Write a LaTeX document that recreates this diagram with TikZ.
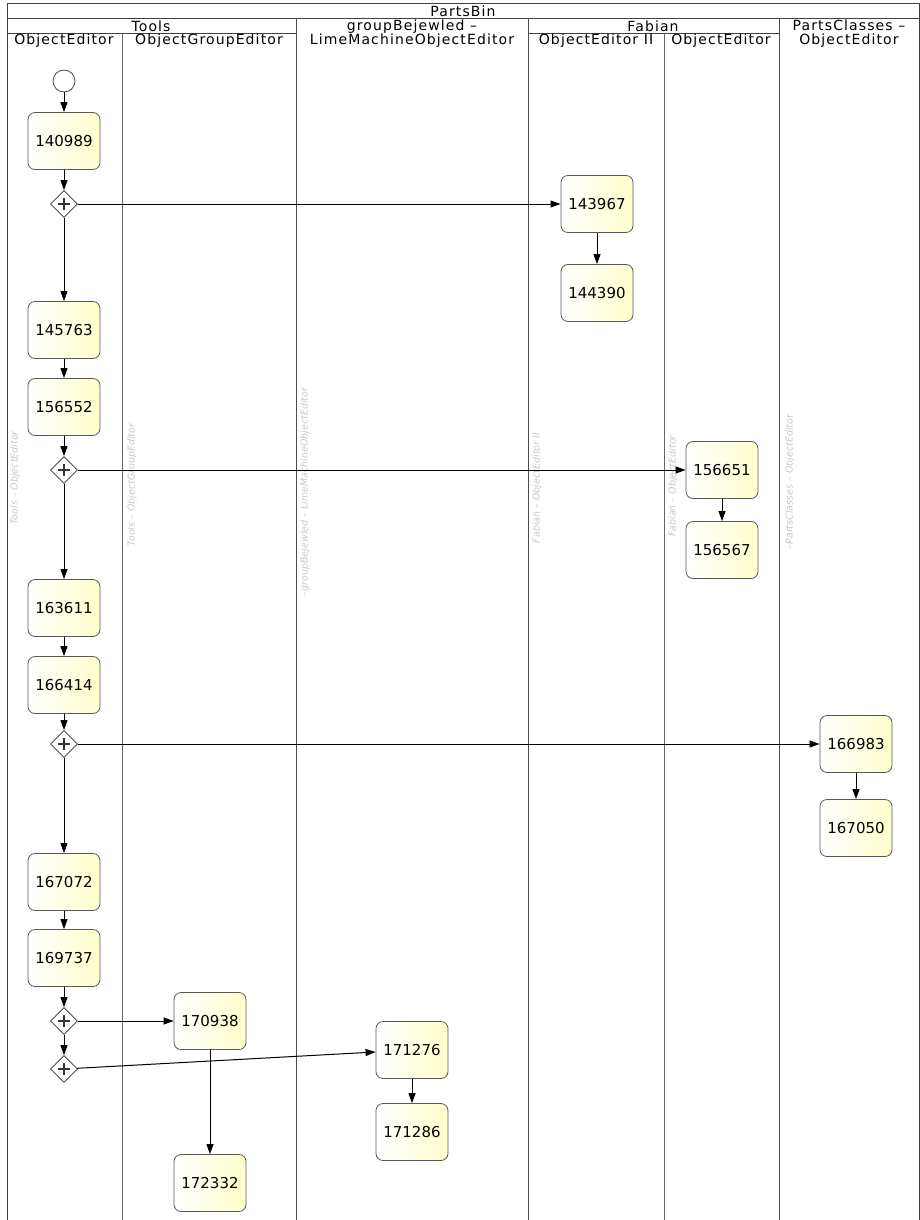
\documentclass[tikz,border=0pt]{standalone}
\usepackage{fontspec}
\setmainfont{DejaVu Sans}
\newfontfamily\hdrfont[LetterSpace=8]{DejaVu Sans}
\usetikzlibrary{arrows.meta,shapes.geometric}
\tikzset{>={Triangle[length=10pt,width=7pt]}}
\tikzset{
  task/.style={draw=black!65, line width=0.8pt, rounded corners=7pt, minimum width=72pt, minimum height=57pt,
    shading angle=135, left color=white, right color=yellow!20, font=\fontsize{15}{15}\selectfont},
  gate/.style={diamond, draw=black!80, line width=0.8pt, fill=white, minimum size=27pt, inner sep=0pt,
    path picture={\draw[line width=1.6pt] ([xshift=-6pt]path picture bounding box.center) -- ([xshift=6pt]path picture bounding box.center);
      \draw[line width=1.6pt] ([yshift=-6pt]path picture bounding box.center) -- ([yshift=6pt]path picture bounding box.center);}},
  hdr/.style={font=\hdrfont\fontsize{14}{14}\selectfont, align=center, inner sep=0pt},
  lanelabel/.style={rotate=90, text=black!22, font=\fontsize{9.5}{9.5}\itshape\selectfont},
  flow/.style={->, line width=1pt}
}

\begin{document}
\begin{tikzpicture}[x=1pt,y=-1pt]
\useasboundingbox (0,0) rectangle (920,1220);
% header rows
\draw[black!75] (7,3) rectangle (919,18);
\draw[black!75] (7,33) -- (296,33) (528,33) -- (779,33);
\node[hdr] at (463,11) {PartsBin};
\node[hdr] at (151,26) {Tools};
\node[hdr] at (653,26) {Fabian};
\node[hdr, anchor=north] at (412,19.5) {groupBejewled –\\LimeMachineObjectEditor};
\node[hdr, anchor=north] at (849,19.5) {PartsClasses –\\ObjectEditor};
\node[hdr] at (64,41) {ObjectEditor};
\node[hdr] at (209,41) {ObjectGroupEditor};
\node[hdr] at (596,41) {ObjectEditor II};
\node[hdr] at (721,41) {ObjectEditor};
% lanes
\foreach \x in {7,919} \draw[black!75] (\x,3) -- (\x,1220);
\foreach \x in {296,528,779} \draw[black!70] (\x,18) -- (\x,1220);
\foreach \x in {122,664} \draw[black!60] (\x,33) -- (\x,1220);
\node[lanelabel] at (15,478) {Tools – ObjectEditor};
\node[lanelabel] at (132,485) {Tools – ObjectGroupEditor};
\node[lanelabel] at (305,492) {–groupBejewled – LimeMachineObjectEditor};
\node[lanelabel] at (537,488) {Fabian – ObjectEditor II};
\node[lanelabel] at (673,486) {Fabian – ObjectEditor};
\node[lanelabel] at (790,482) {–PartsClasses – ObjectEditor};
% nodes
\node[circle, draw=black!70, line width=0.8pt, fill=white, minimum size=22pt, inner sep=0pt] (start) at (64,81) {};
\node[task] (n140989) at (64,141) {140989};
\node[gate] (g1) at (64,204) {};
\node[task] (n143967) at (597,204) {143967};
\node[task] (n144390) at (597,293) {144390};
\node[task] (n145763) at (64,330) {145763};
\node[task] (n156552) at (64,407) {156552};
\node[gate] (g2) at (64,470) {};
\node[task] (n156651) at (722,470) {156651};
\node[task] (n156567) at (722,550) {156567};
\node[task] (n163611) at (64,608) {163611};
\node[task] (n166414) at (64,685) {166414};
\node[gate] (g3) at (64,744) {};
\node[task] (n166983) at (856,744) {166983};
\node[task] (n167050) at (856,828) {167050};
\node[task] (n167072) at (64,882) {167072};
\node[task] (n169737) at (64,958) {169737};
\node[gate] (g4) at (64,1021) {};
\node[task] (n170938) at (210,1021) {170938};
\node[gate] (g5) at (64,1069) {};
\node[task] (n171276) at (412,1050) {171276};
\node[task] (n171286) at (412,1132) {171286};
\node[task] (n172332) at (210,1183) {172332};
% flows
\draw[flow] (start) -- (n140989);
\draw[flow] (n140989) -- (g1);
\draw[flow] (g1) -- (n143967);
\draw[flow] (n143967) -- (n144390);
\draw[flow] (g1) -- (n145763);
\draw[flow] (n145763) -- (n156552);
\draw[flow] (n156552) -- (g2);
\draw[flow] (g2) -- (n156651);
\draw[flow] (n156651) -- (n156567);
\draw[flow] (g2) -- (n163611);
\draw[flow] (n163611) -- (n166414);
\draw[flow] (n166414) -- (g3);
\draw[flow] (g3) -- (n166983);
\draw[flow] (n166983) -- (n167050);
\draw[flow] (g3) -- (n167072);
\draw[flow] (n167072) -- (n169737);
\draw[flow] (n169737) -- (g4);
\draw[flow] (g4) -- (n170938);
\draw[flow] (g4) -- (g5);
\draw[flow] (g5) -- (n171276);
\draw[flow] (n171276) -- (n171286);
\draw[flow] (n170938) -- (n172332);
\end{tikzpicture}
\end{document}
